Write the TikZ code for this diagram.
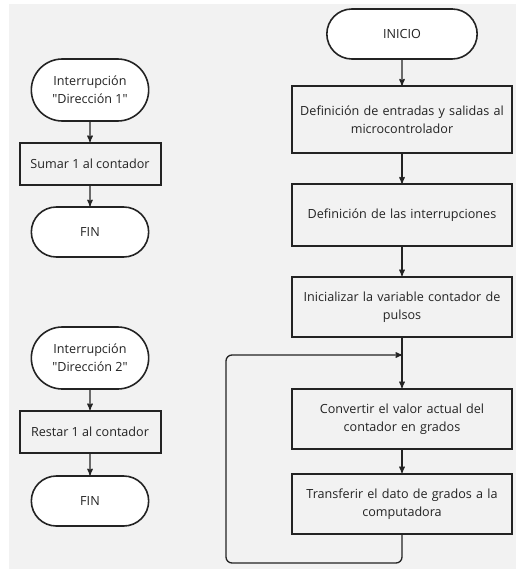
\documentclass[tikz,border=0pt]{standalone}
\usepackage{fontspec}
\setmainfont{Open Sans}
\usepackage{tikz}
\usetikzlibrary{arrows}
\usetikzlibrary{shapes.misc}
\usetikzlibrary{positioning}

\definecolor{paper}{RGB}{242,242,242}
\definecolor{ink}{RGB}{35,35,35}

\begin{document}
\begin{tikzpicture}[->,>=stealth', x=1pt, y=1pt, line width=1.3pt, draw=ink, node distance=80pt]
            \tikzstyle{every node}=[font=\fontsize{12.6}{18}\selectfont, text=ink]
            \tikzstyle{terminal}=[rounded rectangle, draw=ink, line width=1.6pt, fill=white, align=center]
            \tikzstyle{process}=[rectangle, draw=ink, line width=2pt, fill=paper, align=center]

            \useasboundingbox (0,0) rectangle (516,-569);
            \fill[-, paper] (9,-4) rectangle (516,-569);

            % main program
            \node[terminal, minimum width=157pt, minimum height=50pt] (inicio) at (402,-34) {INICIO};
            \node[process, text width=214pt, minimum height=67pt] (defio) [below of=inicio, node distance=86pt] {Definición de entradas y salidas al\\microcontrolador};
            \node[process, text width=214pt, minimum height=61pt] (defint) [below of=defio, node distance=95pt] {Definición de las interrupciones};
            \node[process, text width=214pt, minimum height=60pt] (initvar) [below of=defint, node distance=92pt] {Inicializar la variable contador de\\pulsos};
            \node[process, text width=214pt, minimum height=60pt] (conv) [below of=initvar, node distance=112pt] {Convertir el valor actual del\\contador en grados};
            \node[process, text width=214pt, minimum height=60pt] (send) [below of=conv, node distance=85pt] {Transferir el dato de grados a la\\computadora};

            % interrupts
            \node[terminal, minimum width=124pt, minimum height=62pt] (int1) at (90,-90) {Interrupción\\\textquotedbl Dirección 1\textquotedbl};
            \node[process, minimum width=141pt, minimum height=42pt] (sumar) [below of=int1, node distance=74pt] {Sumar 1 al contador};
            \node[terminal, minimum width=124pt, minimum height=50pt] (fin1) [below of=sumar, node distance=68pt] {FIN};
            \node[terminal, minimum width=124pt, minimum height=62pt] (int2) [below of=fin1, node distance=126pt] {Interrupción\\\textquotedbl Dirección 2\textquotedbl};
            \node[process, minimum width=141pt, minimum height=42pt] (restar) [below of=int2, node distance=74pt] {Restar 1 al contador};
            \node[terminal, minimum width=124pt, minimum height=50pt] (fin2) [below of=restar, node distance=69pt] {FIN};

            \coordinate (merge) at (402,-355);
            \coordinate (back) at (226,-355);

            \path (inicio) edge (defio)
                (defio) edge (defint)
                (defint) edge (initvar)
                (initvar) edge (conv)
                (conv) edge (send)
                (int1) edge (sumar)
                (sumar) edge (fin1)
                (int2) edge (restar)
                (restar) edge (fin2)
            ;
            \draw[rounded corners=6pt] (send.south) -- ++(0,-28) -| (back) -- (merge);
        \end{tikzpicture}
\end{document}
